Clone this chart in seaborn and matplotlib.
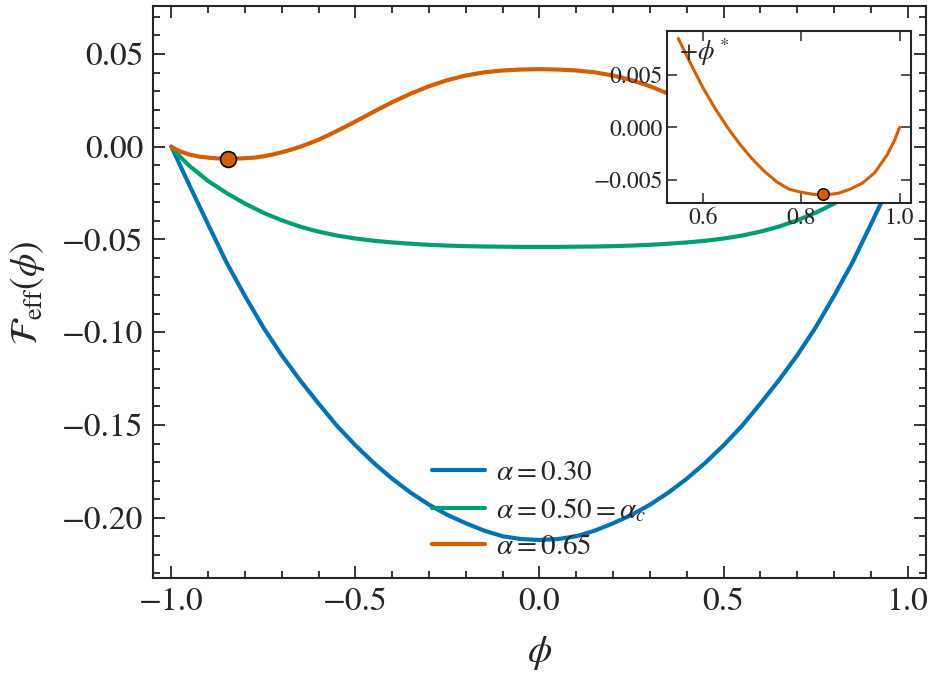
import numpy as np
import pandas as pd
import matplotlib
matplotlib.use("Agg")
import matplotlib.pyplot as plt
import seaborn as sns
from matplotlib.ticker import MultipleLocator

# order parameter grid used for alpha = 0.30 and alpha = 0.50
phi = [-1.0, -0.975, -0.95, -0.9, -0.85, -0.8, -0.75, -0.7, -0.65, -0.6, -0.55,
       -0.5, -0.45, -0.4, -0.35, -0.3, -0.25, -0.2, -0.15, -0.1, -0.05, 0.0,
       0.05, 0.1, 0.15, 0.2, 0.25, 0.3, 0.35, 0.4, 0.45, 0.5, 0.55, 0.6, 0.65,
       0.7, 0.75, 0.8, 0.85, 0.9, 0.95, 0.975, 1.0]

f_030 = [0.0, -0.0106, -0.0212, -0.0420, -0.0625, -0.0805, -0.0975, -0.1125,
         -0.1260, -0.1385, -0.1505, -0.1610, -0.1705, -0.1790, -0.1865, -0.1930,
         -0.1985, -0.2030, -0.2070, -0.2100, -0.2115, -0.2120, -0.2115, -0.2100,
         -0.2070, -0.2030, -0.1985, -0.1930, -0.1865, -0.1790, -0.1705, -0.1610,
         -0.1505, -0.1385, -0.1260, -0.1125, -0.0975, -0.0805, -0.0625, -0.0420,
         -0.0212, -0.0106, 0.0]

f_050 = [0.0, -0.0057, -0.0105, -0.0185, -0.0250, -0.0307, -0.0356, -0.0397,
         -0.0431, -0.0458, -0.0479, -0.0495, -0.0507, -0.0516, -0.0523, -0.0529,
         -0.0533, -0.0536, -0.0538, -0.0539, -0.0540, -0.0540, -0.0540, -0.0539,
         -0.0538, -0.0536, -0.0533, -0.0529, -0.0523, -0.0516, -0.0507, -0.0495,
         -0.0479, -0.0458, -0.0431, -0.0397, -0.0356, -0.0307, -0.0250, -0.0185,
         -0.0105, -0.0057, 0.0]

# finer grid for alpha = 0.65 (needed for the zoomed inset)
phi_065 = [-1.0, -0.99, -0.975, -0.95, -0.925, -0.9, -0.875, -0.85, -0.825, -0.8,
           -0.775, -0.75, -0.725, -0.7, -0.675, -0.65, -0.625, -0.6, -0.575, -0.55,
           -0.5, -0.45, -0.4, -0.35, -0.3, -0.25, -0.2, -0.15, -0.1, -0.05, 0.0,
           0.05, 0.1, 0.15, 0.2, 0.25, 0.3, 0.35, 0.4, 0.45, 0.5, 0.55, 0.575,
           0.6, 0.625, 0.65, 0.675, 0.7, 0.725, 0.75, 0.775, 0.8, 0.825, 0.85,
           0.875, 0.9, 0.925, 0.95, 0.975, 0.99, 1.0]

f_065 = [0.0, -0.0012, -0.0026, -0.0043, -0.0053, -0.0059, -0.0063, -0.00645,
         -0.0064, -0.0062, -0.0059, -0.0052, -0.0042, -0.0030, -0.0016, 0.0,
         0.0018, 0.0038, 0.0061, 0.0085, 0.0136, 0.0189, 0.0240, 0.0286, 0.0326,
         0.0359, 0.0384, 0.0401, 0.0411, 0.0416, 0.0418, 0.0416, 0.0411, 0.0401,
         0.0384, 0.0359, 0.0326, 0.0286, 0.0240, 0.0189, 0.0136, 0.0085, 0.0061,
         0.0038, 0.0018, 0.0, -0.0016, -0.0030, -0.0042, -0.0052, -0.0059,
         -0.0062, -0.0064, -0.00645, -0.0063, -0.0059, -0.0053, -0.0043, -0.0026,
         -0.0012, 0.0]

labels = [r"$\alpha = 0.30$", r"$\alpha = 0.50 = \alpha_c$", r"$\alpha = 0.65$"]
phi_star = 0.845
f_star = -0.0064
inset_from = 0.55

sns.set_style("ticks")
plt.rcParams["font.family"] = ["STIXGeneral", "DejaVu Serif"]
plt.rcParams["mathtext.fontset"] = "stix"
plt.rcParams["axes.linewidth"] = 1.5

cb = sns.color_palette("colorblind")
palette = {labels[0]: cb[0], labels[1]: cb[2], labels[2]: cb[3]}

df = pd.concat([
    pd.DataFrame({"phi": phi, "F": f_030, "alpha": labels[0]}),
    pd.DataFrame({"phi": phi, "F": f_050, "alpha": labels[1]}),
    pd.DataFrame({"phi": phi_065, "F": f_065, "alpha": labels[2]}),
])

fig = plt.figure(figsize=(9.34, 6.82), dpi=100)
ax = fig.add_axes([0.1638, 0.1525, 0.8276, 0.838])

sns.lineplot(data=df, x="phi", y="F", hue="alpha", hue_order=labels,
             palette=palette, linewidth=3, ax=ax)
sns.scatterplot(x=[-phi_star], y=[f_star], color=cb[3], s=130,
                edgecolor="black", linewidth=1.2, zorder=5, ax=ax)

ax.set_xlim(-1.05, 1.05)
ax.set_ylim(-0.2325, 0.0756)
ax.xaxis.set_major_locator(MultipleLocator(0.5))
ax.xaxis.set_minor_locator(MultipleLocator(0.1))
ax.yaxis.set_major_locator(MultipleLocator(0.05))
ax.yaxis.set_minor_locator(MultipleLocator(0.01))
ax.tick_params(which="both", direction="in", top=True, right=True,
               labelsize=24, width=1.3)
ax.tick_params(which="major", length=8.5)
ax.tick_params(which="minor", length=5)
ax.tick_params(axis="x", pad=7)
ax.tick_params(axis="y", pad=7)
ax.set_xlabel(r"$\phi$", fontsize=28, labelpad=12)
ax.set_ylabel(r"$\mathcal{F}_{\mathrm{eff}}(\phi)$", fontsize=27, labelpad=11)

handles, leg_labels = ax.get_legend_handles_labels()
ax.legend(handles=handles, labels=leg_labels, loc="lower center", frameon=False,
          fontsize=21, handlelength=1.8, handletextpad=0.4, labelspacing=0.35,
          borderaxespad=0.2)

# inset around the right-hand minimum
ins = fig.add_axes([0.7144, 0.7028, 0.2606, 0.2522])
sub = df[(df["alpha"] == labels[2]) & (df["phi"] >= inset_from)]
sns.lineplot(data=sub, x="phi", y="F", color=cb[3], linewidth=2.2, ax=ins)
sns.scatterplot(x=[phi_star], y=[f_star], color=cb[3], s=70,
                edgecolor="black", linewidth=1.0, zorder=5, ax=ins)
ins.xaxis.set_major_locator(MultipleLocator(0.2))
ins.yaxis.set_major_locator(MultipleLocator(0.005))
ins.tick_params(which="both", direction="in", top=True, right=True,
                labelsize=17, width=1.1, length=7)
ins.set_xlabel("")
ins.set_ylabel("")
ins.text(0.05, 0.97, r"$+\phi^*$", transform=ins.transAxes, ha="left",
         va="top", fontsize=19)

fig.savefig("out.png", dpi=100)
